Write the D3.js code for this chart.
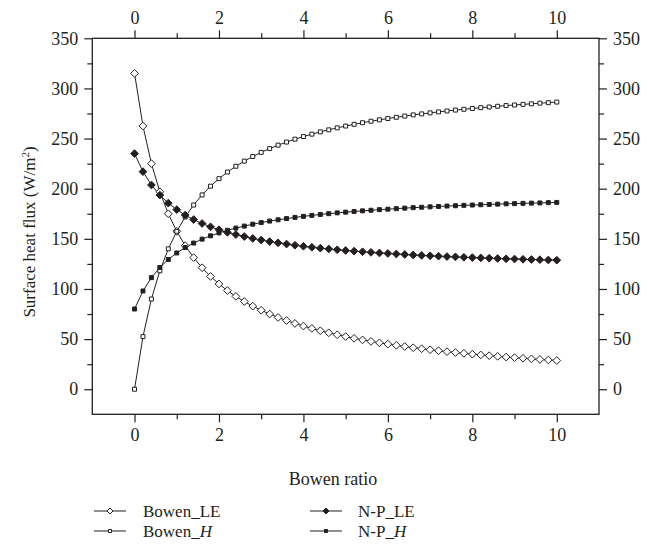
<!DOCTYPE html>
<html><head><meta charset="utf-8">
<script src="https://cdn.jsdelivr.net/npm/d3@7"></script>
<style>
body{margin:0;background:#fff;}
svg text{font-family:"Liberation Serif","Times New Roman",serif;fill:#231f20;}
</style></head>
<body>
<svg id="c" width="662" height="554"></svg>
<script>
const bowenRatio = [0,0.2,0.4,0.6,0.8,1,1.2,1.4,1.6,1.8,2,2.2,2.4,2.6,2.8,3,3.2,3.4,3.6,3.8,4,4.2,4.4,4.6,4.8,5,5.2,5.4,5.6,5.8,6,6.2,6.4,6.6,6.8,7,7.2,7.4,7.6,7.8,8,8.2,8.4,8.6,8.8,9,9.2,9.4,9.6,9.8,10];
const bowenLE = [315,262.5,225,196.9,175,157.5,143.2,131.3,121.2,112.5,105,98.4,92.6,87.5,82.9,78.8,75,71.6,68.5,65.6,63,60.6,58.3,56.3,54.3,52.5,50.8,49.2,47.7,46.3,45,43.8,42.6,41.4,40.4,39.4,38.4,37.5,36.6,35.8,35,34.2,33.5,32.8,32.1,31.5,30.9,30.3,29.7,29.2,28.6];
const bowenH = [0,52.5,90,118.1,140,157.5,171.8,183.7,193.8,202.5,210,216.6,222.4,227.5,232.1,236.2,240,243.4,246.5,249.4,252,254.4,256.7,258.7,260.7,262.5,264.2,265.8,267.3,268.7,270,271.2,272.4,273.6,274.6,275.6,276.6,277.5,278.4,279.2,280,280.8,281.5,282.2,282.9,283.5,284.1,284.7,285.3,285.8,286.4];
const npLE = [235,217,203.7,193.6,185.6,179.1,173.7,169.2,165.3,162,159.1,156.5,154.3,152.3,150.4,148.8,147.3,146,144.8,143.6,142.6,141.6,140.7,139.9,139.1,138.4,137.7,137.1,136.5,135.9,135.4,134.9,134.4,133.9,133.5,133.1,132.7,132.3,132,131.6,131.3,131,130.7,130.4,130.1,129.9,129.6,129.4,129.2,128.9,128.7];
const npH = [80,98,111.3,121.4,129.4,135.9,141.3,145.8,149.7,153,155.9,158.5,160.7,162.7,164.6,166.2,167.7,169,170.2,171.4,172.4,173.4,174.3,175.1,175.9,176.6,177.3,177.9,178.5,179.1,179.6,180.1,180.6,181.1,181.5,181.9,182.3,182.7,183,183.4,183.7,184,184.3,184.6,184.9,185.1,185.4,185.6,185.8,186.1,186.3];
const xTicks = [0,2,4,6,8,10];
const xMinor = [1,3,5,7,9];
const yTicks = [0,50,100,150,200,250,300,350];
const yMinor = [25,75,125,175,225,275,325];
const seriesNames = ["Bowen_LE","Bowen_H","N-P_LE","N-P_H"];

const svg = d3.select("#c");
const L=92.3, R=599, T=38.3, B=414.3;
const x = d3.scaleLinear().domain([-1,11]).range([L,R]);
const y = d3.scaleLinear().domain([-25,350]).range([B,T]);
const ink="#231f20";
const fs=18;

function axis(gen, tr, ticks, minor){
  const g = svg.append("g").attr("transform",tr)
    .call(gen.tickValues(ticks).tickSize(8).tickPadding(6).tickFormat(d3.format("d")));
  g.select(".domain").remove();
  g.selectAll("line").attr("stroke",ink).attr("stroke-width",1.2);
  g.selectAll("text").style("font-size",fs+"px").attr("fill",ink);
  const gm = svg.append("g").attr("transform",tr)
    .call(gen.tickValues(minor).tickSize(5).tickFormat(""));
  gm.select(".domain").remove();
  gm.selectAll("line").attr("stroke",ink).attr("stroke-width",1.2);
  return g;
}
axis(d3.axisBottom(x), `translate(0,${B})`, xTicks, xMinor);
axis(d3.axisTop(x), `translate(0,${T})`, xTicks, xMinor);
axis(d3.axisLeft(y), `translate(${L},0)`, yTicks, yMinor);
axis(d3.axisRight(y), `translate(${R},0)`, yTicks, yMinor);

svg.append("rect").attr("x",L).attr("y",T).attr("width",R-L).attr("height",B-T)
  .attr("fill","none").attr("stroke",ink).attr("stroke-width",1.3);

const data = [
  {name:seriesNames[0], vals:bowenLE, shape:"diamond", fill:"#fff"},
  {name:seriesNames[1], vals:bowenH, shape:"square", fill:"#fff"},
  {name:seriesNames[2], vals:npLE, shape:"diamond", fill:ink},
  {name:seriesNames[3], vals:npH, shape:"square", fill:ink}
];
const line = d3.line().x((d,i)=>x(bowenRatio[i])).y(d=>y(d));
function sym(shape, s){
  return shape==="diamond" ? d3.symbol().type(d3.symbolDiamond2).size(s*1.9)() : d3.symbol().type(d3.symbolSquare2).size(s)();
}
data.forEach(s=>{
  svg.append("path").attr("d",line(s.vals)).attr("fill","none").attr("stroke",ink).attr("stroke-width",1);
});
data.forEach(s=>{
  svg.append("g").selectAll("path").data(s.vals).join("path")
    .attr("transform",(d,i)=>`translate(${x(bowenRatio[i])},${y(d)})`)
    .attr("d",sym(s.shape,20))
    .attr("fill",s.fill).attr("stroke",ink).attr("stroke-width",1);
});

// axis titles
svg.append("text").attr("x",333).attr("y",485).attr("text-anchor","middle")
  .style("font-size",fs+"px").text("Bowen ratio");
const yt = svg.append("text").attr("transform","translate(35,232) rotate(-90)")
  .attr("text-anchor","middle").style("font-size","17px");
yt.append("tspan").text("Surface heat flux (W/m");
yt.append("tspan").attr("dy",-6).style("font-size","11px").text("2");
yt.append("tspan").attr("dy",6).text(")");

// legend
const lfs = 17;
const legPos = [[94,511],[94,531],[310,511],[310,531]];
data.forEach((s,i)=>{
  const [lx,ly]=legPos[i];
  const g = svg.append("g");
  g.append("line").attr("x1",lx).attr("x2",lx+32).attr("y1",ly).attr("y2",ly).attr("stroke",ink).attr("stroke-width",1);
  g.append("path").attr("transform",`translate(${lx+16},${ly})`).attr("d",sym(s.shape,12))
    .attr("fill",s.fill).attr("stroke",ink).attr("stroke-width",1);
  const t = g.append("text").attr("x",lx+(i<2?49:48)).attr("y",ly+6).style("font-size",lfs+"px");
  const parts = s.name.split("_");
  t.append("tspan").text(parts[0]+"_");
  const it = t.append("tspan").text(parts[1]);
  if(parts[1]==="H") it.style("font-style","italic");
});
</script>
</body></html>
